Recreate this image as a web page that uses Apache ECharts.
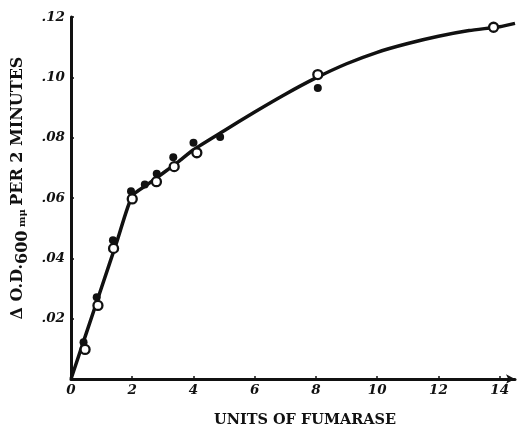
<!DOCTYPE html>
<html>
<head>
<meta charset="utf-8">
<script src="https://cdn.jsdelivr.net/npm/echarts@6/dist/echarts.min.js"></script>
<style>html,body{margin:0;padding:0;background:#fff}#c{width:527px;height:433px}</style>
</head>
<body>
<div id="c"></div>
<script>
// Data
var xTicks = [0, 2, 4, 6, 8, 10, 12, 14];
var filledX = [0.41, 0.84, 1.37, 1.96, 2.41, 2.80, 3.34, 4.00, 4.87, 8.06];
var filledY = [0.0122, 0.0271, 0.0460, 0.0622, 0.0645, 0.0680, 0.0735, 0.0783, 0.0802, 0.0965];
var openX = [0.46, 0.88, 1.39, 2.00, 2.79, 3.37, 4.11, 8.06, 13.80];
var openY = [0.0098, 0.0244, 0.0433, 0.0597, 0.0654, 0.0704, 0.0750, 0.1009, 0.1166];
var curveX = [0, 0.5, 1, 1.5, 2, 2.5, 3, 3.5, 4, 5, 6, 7, 8, 9, 10, 11, 12, 13, 14, 14.5];
var curveY = [0, 0.0152, 0.0304, 0.0456, 0.0607, 0.0645, 0.0682, 0.0720, 0.0760, 0.0823, 0.0885, 0.0944, 0.0998, 0.1045, 0.1083, 0.1112, 0.1136, 0.1155, 0.1168, 0.1179];

function zip(a, b) { return a.map(function (v, i) { return [v, b[i]]; }); }

var ink = '#111';
var chart = echarts.init(document.getElementById('c'), null, {renderer: 'canvas'});
chart.setOption({
  backgroundColor: '#fff',
  animation: false,
  grid: {left: 71, right: 12, top: 17, bottom: 45, containLabel: false},
  xAxis: {
    type: 'value', min: 0, max: 14.5, interval: 2,
    name: 'UNITS OF FUMARASE',
    nameLocation: 'middle', nameGap: 34,
    nameTextStyle: {color: ink, fontFamily: 'DejaVu Serif', fontWeight: 'bold', fontSize: 14.5, padding: [0, 0, 0, 24]},
    axisLine: {lineStyle: {color: ink, width: 3}, symbol: ['none', 'arrow'], symbolSize: [7, 9]},
    axisTick: {show: true, inside: true, length: 3, lineStyle: {color: ink, width: 1.5}},
    splitLine: {show: false},
    axisLabel: {
      color: ink, fontFamily: 'DejaVu Serif', fontStyle: 'italic', fontWeight: 'bold', fontSize: 13.5, margin: 4,
      showMaxLabel: false,
      formatter: function (v) { return xTicks.indexOf(v) >= 0 ? String(v) : ''; }
    }
  },
  yAxis: {
    type: 'value', min: 0, max: 0.12, interval: 0.02,
    name: '{d|\u0394 O.D.}{s|600}{m| m\u03bc} {d|PER 2 MINUTES}',
    nameLocation: 'middle', nameRotate: 90, nameGap: 38,
    nameTextStyle: {
      color: ink, padding: [0, 0, 0, 20],
      rich: {
        d: {fontFamily: 'DejaVu Serif', fontWeight: 'bold', fontSize: 16, color: ink},
        s: {fontFamily: 'DejaVu Serif', fontWeight: 'bold', fontSize: 16, color: ink, padding: [9, 0, 0, 0]},
        m: {fontFamily: 'DejaVu Serif', fontWeight: 'bold', fontSize: 10, color: ink, padding: [9, 0, 0, 0]}
      }
    },
    axisLine: {show: true, lineStyle: {color: ink, width: 3}},
    axisTick: {show: true, inside: true, length: 3, lineStyle: {color: ink, width: 1.5}},
    splitLine: {show: false},
    axisLabel: {
      color: ink, fontFamily: 'DejaVu Serif', fontStyle: 'italic', fontWeight: 'bold', fontSize: 13.5, margin: 6,
      showMinLabel: false,
      formatter: function (v) { return v === 0 ? '' : v.toFixed(2).replace(/^0/, ''); }
    }
  },
  series: [
    {type: 'line', data: zip(curveX, curveY), smooth: 0.2, showSymbol: false, symbol: 'none',
     lineStyle: {color: ink, width: 3.5}, z: 2},
    {type: 'scatter', data: zip(filledX, filledY), symbol: 'circle', symbolSize: 8,
     itemStyle: {color: ink, opacity: 1}, z: 3},
    {type: 'scatter', data: zip(openX, openY), symbol: 'circle', symbolSize: 9,
     itemStyle: {color: '#fff', borderColor: ink, borderWidth: 2.3, opacity: 1}, z: 4}
  ]
});
</script>
</body>
</html>
